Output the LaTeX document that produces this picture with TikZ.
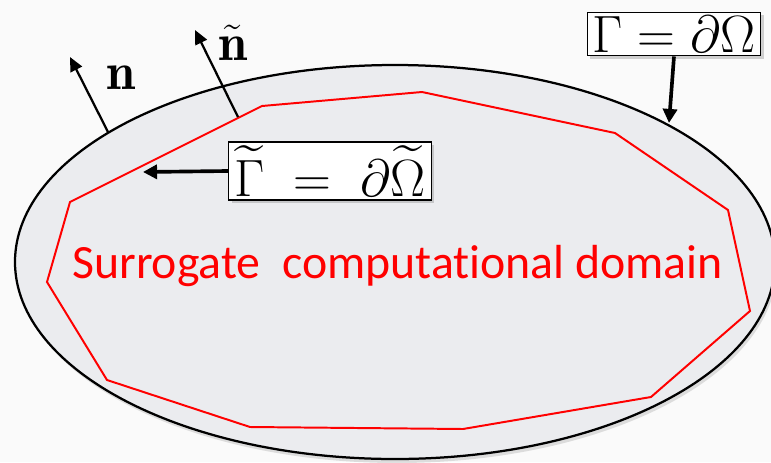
\documentclass[tikz,border=0pt]{standalone}
\usepackage{amsmath}
\usepackage{graphicx}
\usepackage{fontspec}
\newfontfamily\domainfont[Ligatures=NoCommon]{Carlito}
\usetikzlibrary{arrows.meta, shadows}
\definecolor{pagegray}{RGB}{250,250,250}
\definecolor{domgray}{RGB}{235,236,239}
\definecolor{surred}{RGB}{255,0,0}
\newcommand{\biglabel}[1]{\scalebox{1.5}{#1}}
\tikzset{
  labelbox/.style={rectangle, draw=black, fill=white, line width=1pt,
    inner xsep=4pt, inner ysep=2.5pt, font=\fontsize{24.88}{28}\selectfont,
    drop shadow={shadow xshift=2pt, shadow yshift=-2pt, opacity=0.35}},
  bigarrow/.style={-{Triangle[length=10pt, width=10pt]}, line width=2.6pt},
  normalarrow/.style={-{Triangle[length=10pt, width=9pt]}, line width=1.6pt},
  surrogate/.style={draw=surred, line width=1.4pt, line join=miter},
  domtext/.style={text=surred, font=\domainfont\fontsize{34}{40}\selectfont},
  normlabel/.style={font=\fontsize{24.88}{28}\selectfont, inner sep=0pt}
}
\begin{document}
\begin{tikzpicture}[x=0.025cm, y=-0.025cm]
  \fill[pagegray] (0,0) rectangle (771,462);
  \useasboundingbox (0,0) rectangle (771,462);

  % true domain
  \fill[black!40, opacity=0.3] (397,266) ellipse [x radius=380, y radius=197];
  \filldraw[fill=domgray, draw=black, line width=1.6pt]
    (395,262) ellipse [x radius=380, y radius=197];

  % surrogate boundary
  \draw[surrogate] (70,202) -- (262,106) -- (422,92) -- (615,133)
    -- (728,210) -- (750,311) -- (651,397) -- (463,429) -- (250,427)
    -- (107,380) -- (47,282) -- cycle;

  \node[domtext, anchor=base west, inner sep=0pt] (surtext) at (72,278)
    {Surrogate\ \ computational domain};

  % labels
  \node[labelbox] (gam) at (674,34) {\biglabel{$\Gamma = \partial\Omega$}};
  \node[labelbox] (gamt) at (330,171)
    {\biglabel{$\widetilde{\Gamma}\;=\;\partial\widetilde{\Omega}$}};

  \coordinate (gamfoot) at (669,123);
  \coordinate (gamtfoot) at (143,172);
  \draw[bigarrow] (gam.south) -- (gamfoot);
  \draw[bigarrow] (gamt.west) -- (gamtfoot);

  % normals
  \coordinate (nfoot) at (108,132);
  \coordinate (ntip) at (70,57);
  \coordinate (ntfoot) at (238,117);
  \coordinate (nttip) at (195,30);
  \draw[normalarrow] (nfoot) -- (ntip);
  \draw[normalarrow] (ntfoot) -- (nttip);
  \node[normlabel] (nlab) at (121,78) {\biglabel{$\mathbf{n}$}};
  \node[normlabel] (ntlab) at (233,43) {\biglabel{$\tilde{\mathbf{n}}$}};
\end{tikzpicture}
\end{document}
